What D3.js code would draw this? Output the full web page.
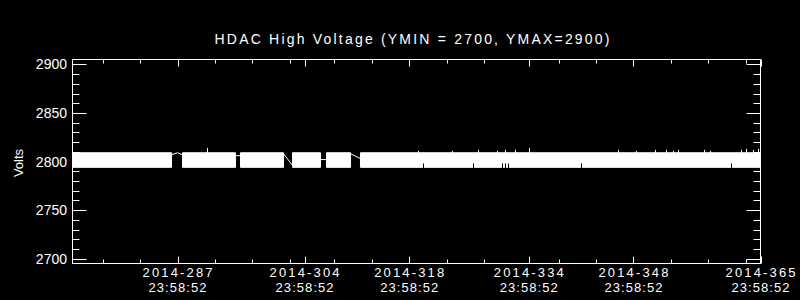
<!DOCTYPE html>
<html>
<head>
<meta charset="utf-8">
<script src="https://cdn.jsdelivr.net/npm/d3@7"></script>
<style>
  html, body { margin: 0; padding: 0; background: #000; }
  svg { display: block; }
  text { fill: #fff; font-family: "Liberation Sans", Arial, sans-serif; }
</style>
</head>
<body>
<div id="chart"></div>
<script>
// axis labels
var title = 'HDAC High Voltage (YMIN = 2700, YMAX=2900)';
var yLabel = 'Volts';
var xMajorDays = [287, 304, 318, 334, 348, 365];
var xMajorDate = ['2014-287', '2014-304', '2014-318', '2014-334', '2014-348', '2014-365'];
var xMajorTime = ['23:58:52', '23:58:52', '23:58:52', '23:58:52', '23:58:52', '23:58:52'];
var xMinorDays = [277, 282, 292, 297, 302, 308, 313, 323, 328, 338, 343, 353, 358, 363];
var yMajor = [2700, 2750, 2800, 2850, 2900];

// dense parts of the trace (day of year), with the envelope of the noise
var segStart = [272.95, 287.67, 295.43, 302.39, 306.93, 311.48];
var segEnd = [286.2, 294.76, 301.18, 306.13, 310.15, 365.0];
var segLo = [2794, 2794, 2794, 2794, 2794, 2794];
var segHi = [2809, 2809, 2809, 2809, 2809, 2809];

// single connecting lines across the data gaps (null splits them)
var gapDay = [286.2, 287.0, 287.67, null, 294.76, 295.43, null, 301.18, 302.39, null, 306.13, 306.93, null, 310.15, 311.48];
var gapVolt = [2807, 2809, 2807, null, 2806, 2806, null, 2808, 2796, null, 2802, 2802, null, 2808, 2803];

// isolated spikes above the band
var spikeDay = [291.01, 319.24, 323.79, 327.14, 329.81, 330.75, 332.22, 333.96, 345.87, 348.28, 350.95, 352.29, 353.23, 353.9, 357.38, 358.18, 362.33, 363.0, 363.93, 364.6];
var spikeVolt = [2814, 2811, 2811, 2812, 2811, 2812, 2812, 2814, 2812, 2811, 2812, 2812, 2811, 2812, 2812, 2811, 2812, 2813, 2812, 2813];

// short holes at the bottom of the band
var notchDay = [319.91, 326.6, 330.35, 330.75, 331.28, 341.05, 361.0];
var notchVolt = [2798, 2798, 2798, 2798, 2798, 2798, 2798];

var width = 800, height = 300;
var margin = {top: 59, right: 40, bottom: 37, left: 72};

var svg = d3.select('#chart').append('svg').attr('width', width).attr('height', height);
svg.append('rect').attr('width', width).attr('height', height).attr('fill', '#000');

var x = d3.scaleLinear().domain([272.95, 365]).range([margin.left + 0.5, width - margin.right + 0.5]);
var y = d3.scaleLinear().domain([2695, 2905]).range([height - margin.bottom + 0.5, margin.top + 0.5]);

var plot = svg.append('g');

// band
var band = [];
segStart.forEach(function(s, i) {
  band.push({day: s, lo: segLo[i], hi: segHi[i]});
  band.push({day: segEnd[i], lo: segLo[i], hi: segHi[i]});
  band.push(null);
});
var area = d3.area().defined(function(d) { return d !== null; })
  .x(function(d) { return x(d.day); })
  .y0(function(d) { return y(d.lo); })
  .y1(function(d) { return y(d.hi); });
plot.append('path').datum(band).attr('d', area).attr('fill', '#fff').attr('stroke', '#fff').attr('stroke-width', 1);

var gaps = gapDay.map(function(d, i) { return d === null ? null : {day: d, v: gapVolt[i]}; });
var line = d3.line().defined(function(d) { return d !== null; })
  .x(function(d) { return x(d.day); })
  .y(function(d) { return y(d.v); });
plot.append('path').datum(gaps).attr('d', line).attr('fill', 'none').attr('stroke', '#fff').attr('stroke-width', 1);

plot.selectAll('.spike').data(spikeDay).enter().append('line').attr('class', 'spike')
  .attr('x1', function(d) { return Math.round(x(d)) + 0.5; })
  .attr('x2', function(d) { return Math.round(x(d)) + 0.5; })
  .attr('y1', y(2806))
  .attr('y2', function(d, i) { return y(spikeVolt[i]); })
  .attr('stroke', '#fff');

plot.selectAll('.notch').data(notchDay).enter().append('line').attr('class', 'notch')
  .attr('x1', function(d) { return Math.round(x(d)) + 0.5; })
  .attr('x2', function(d) { return Math.round(x(d)) + 0.5; })
  .attr('y1', y(2793))
  .attr('y2', function(d, i) { return y(notchVolt[i]); })
  .attr('stroke', '#000');

// frame
var x0 = x.range()[0], x1 = x.range()[1], y0 = y.range()[0], y1 = y.range()[1];
svg.append('rect').attr('x', x0).attr('y', y1).attr('width', x1 - x0).attr('height', y0 - y1)
  .attr('fill', 'none').attr('stroke', '#fff').attr('stroke-width', 1);

var ticks = svg.append('g').attr('stroke', '#fff').attr('stroke-width', 1);

// y ticks, both sides
var yMinor = d3.range(2700, 2901, 10);
yMinor.forEach(function(v) {
  var len = yMajor.indexOf(v) >= 0 ? 14 : 7;
  var yy = Math.round(y(v)) + 0.5;
  ticks.append('line').attr('x1', x0).attr('x2', x0 + len).attr('y1', yy).attr('y2', yy);
  ticks.append('line').attr('x1', x1).attr('x2', x1 - len).attr('y1', yy).attr('y2', yy);
});

// x ticks, top and bottom
xMinorDays.concat(xMajorDays).forEach(function(d) {
  var len = xMajorDays.indexOf(d) >= 0 ? 7 : 4;
  var xx = Math.round(x(d)) + 0.5;
  ticks.append('line').attr('x1', xx).attr('x2', xx).attr('y1', y0).attr('y2', y0 - len);
  ticks.append('line').attr('x1', xx).attr('x2', xx).attr('y1', y1).attr('y2', y1 + len);
});

svg.selectAll('.ylab').data(yMajor).enter().append('text').attr('class', 'ylab')
  .attr('x', 67).attr('y', function(d) { return y(d) + 5; })
  .attr('text-anchor', 'end').style('font-size', '14px')
  .text(function(d) { return d; });

svg.selectAll('.xdate').data(xMajorDays).enter().append('text').attr('class', 'xdate')
  .attr('x', function(d) { return x(d); }).attr('y', 277)
  .attr('text-anchor', 'middle').style('font-size', '13px')
  .attr('textLength', 70).attr('lengthAdjust', 'spacing')
  .text(function(d, i) { return xMajorDate[i]; });

svg.selectAll('.xtime').data(xMajorDays).enter().append('text').attr('class', 'xtime')
  .attr('x', function(d) { return x(d); }).attr('y', 292)
  .attr('text-anchor', 'middle').style('font-size', '13px')
  .attr('textLength', 58).attr('lengthAdjust', 'spacing')
  .text(function(d, i) { return xMajorTime[i]; });

svg.append('text').attr('x', 412).attr('y', 44).attr('text-anchor', 'middle')
  .style('font-size', '14px').attr('textLength', 395).attr('lengthAdjust', 'spacing')
  .text(title);

svg.append('text').attr('transform', 'translate(23,163) rotate(-90)')
  .attr('text-anchor', 'middle').style('font-size', '13px')
  .text(yLabel);
</script>
</body>
</html>
